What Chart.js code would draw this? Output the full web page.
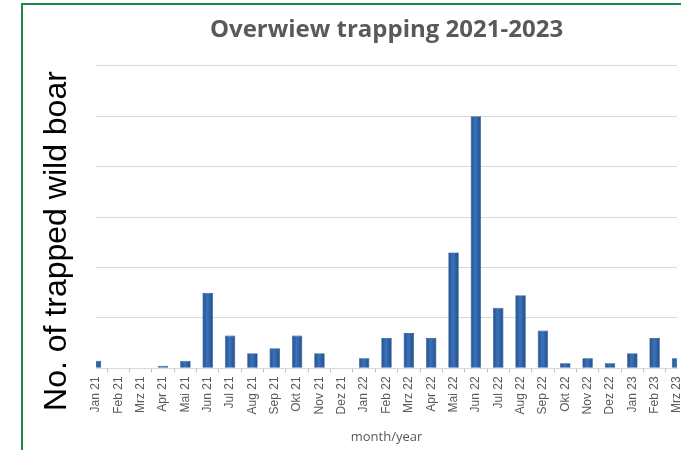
<!DOCTYPE html>
<html>
<head>
<meta charset="utf-8">
<script src="https://cdn.jsdelivr.net/npm/chart.js@4/dist/chart.umd.min.js"></script>
<style>
  html, body { margin: 0; padding: 0; background: #fff; }
  #wrap { position: relative; width: 681px; height: 450px; overflow: hidden; }
  #frame { position: absolute; left: 21px; top: 3px; width: 700px; height: 500px;
           border-top: 2px solid #1b8a48; border-left: 2px solid #1b8a48; }
  #box { position: absolute; left: 0; top: 0; width: 681px; height: 450px; }
</style>
</head>
<body>
<div id="wrap">
  <div id="frame"></div>
  <div id="box"><canvas id="trapChart"></canvas></div>
</div>
<script>
// months shown on the x axis
var months = ['Jan 21', 'Feb 21', 'Mrz 21', 'Apr 21', 'Mai 21', 'Jun 21', 'Jul 21', 'Aug 21', 'Sep 21',
  'Okt 21', 'Nov 21', 'Dez 21', 'Jan 22', 'Feb 22', 'Mrz 22', 'Apr 22', 'Mai 22', 'Jun 22',
  'Jul 22', 'Aug 22', 'Sep 22', 'Okt 22', 'Nov 22', 'Dez 22', 'Jan 23', 'Feb 23', 'Mrz 23'];

// trapped wild boar per month
var trapped = [3, 0, 0, 1, 3, 30, 13, 6, 8, 13, 6, 0, 4, 12, 14, 12, 46, 100, 24, 29, 15, 2, 4, 2, 6, 12, 4];

// y axis range (no labels shown, only the grid)
var yMax = 120;
var yStep = 20;

var chartTitle = 'Overwiew trapping 2021-2023';
var xTitle = 'month/year';
var yTitle = 'No. of trapped wild boar';

// big rotated y label sits in its own text box, not centred on the plot
var sideLabel = {
  id: 'sideLabel',
  afterDraw: function (chart) {
    var c = chart.ctx;
    c.save();
    c.translate(66, 241);
    c.rotate(-Math.PI / 2);
    c.font = '32px "Liberation Sans", Arial, sans-serif';
    c.fillStyle = '#000';
    c.textAlign = 'center';
    c.textBaseline = 'alphabetic';
    c.fillText(yTitle, 0, 0);
    c.restore();
  }
};

// bar fill: dark edges, lighter middle like the excel bevel
function barFill(ctx) {
  var chart = ctx.chart;
  if (!chart.chartArea || ctx.type !== 'data') return '#2f66ae';
  var x = chart.scales.x.getPixelForValue(ctx.dataIndex);
  var g = chart.ctx.createLinearGradient(x - 5, 0, x + 5, 0);
  g.addColorStop(0, '#24528f');
  g.addColorStop(0.45, '#3a72ba');
  g.addColorStop(1, '#21508d');
  return g;
}

var ctx = document.getElementById('trapChart').getContext('2d');
var trapChart = new Chart(ctx, {
  type: 'bar',
  data: {
    labels: months,
    datasets: [{
      data: trapped,
      backgroundColor: barFill,
      borderColor: '#1e4a84',
      borderWidth: 0.6,
      barPercentage: 0.47,
      categoryPercentage: 1,
      clip: 0
    }]
  },
  options: {
    responsive: true,
    maintainAspectRatio: false,
    animation: false,
    layout: { padding: { left: 96, right: 4, top: 0, bottom: 0 } },
    plugins: {
      legend: { display: false },
      tooltip: { enabled: false },
      title: {
        display: true,
        text: chartTitle,
        color: '#595959',
        font: { family: '"Open Sans", sans-serif', size: 24, weight: 'bold' },
        padding: { top: 16, bottom: 21 }
      }
    },
    scales: {
      x: {
        offset: false,
        // the half bars at both ends run to the plot edge, so no extra label room
        afterFit: function (scale) {
          scale.paddingLeft = 0;
          scale.paddingRight = 0;
        },
        grid: { drawOnChartArea: false, drawTicks: true, tickLength: 4, color: '#bfbfbf' },
        border: { color: '#d9d9d9' },
        ticks: {
          autoSkip: false,
          minRotation: 90,
          maxRotation: 90,
          padding: 4,
          color: '#595959',
          font: { family: '"Liberation Sans", Arial, sans-serif', size: 12 }
        },
        title: {
          display: true,
          text: xTitle,
          color: '#595959',
          font: { family: '"Open Sans", sans-serif', size: 13 },
          padding: { top: 11, bottom: 5 }
        }
      },
      y: {
        min: 0,
        max: yMax,
        ticks: { display: false, stepSize: yStep },
        grid: { color: '#d9d9d9', drawTicks: false },
        border: { display: false }
      }
    }
  },
  plugins: [sideLabel]
});
</script>
</body>
</html>
